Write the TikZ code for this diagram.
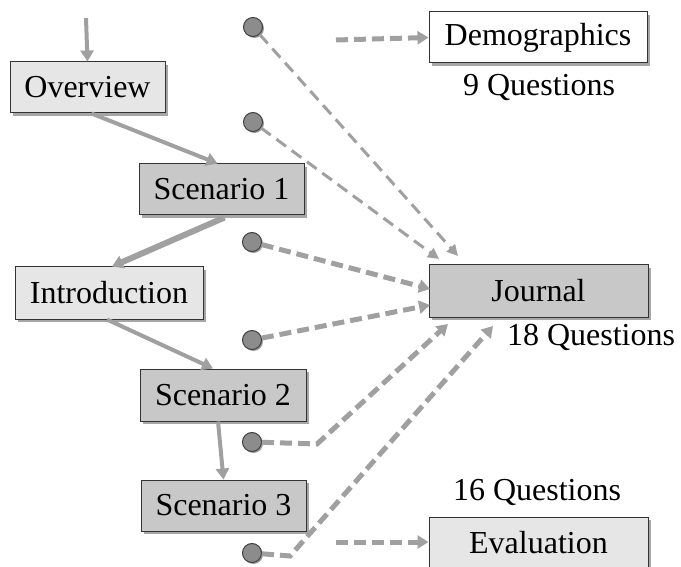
\documentclass[tikz,border=0pt]{standalone}
\usepackage{fontspec}
\setmainfont{Liberation Serif}
\usetikzlibrary{arrows.meta,shadows,calc}
\definecolor{arr}{HTML}{A0A0A0}
\definecolor{boxlight}{HTML}{E6E6E6}
\definecolor{boxdark}{HTML}{C8C8C8}
\definecolor{dotfill}{HTML}{8C8C8C}
\tikzset{
  boxbase/.style={draw=black!80, line width=1pt, inner sep=0pt,
    font=\fontsize{32}{38}\selectfont,
    drop shadow={shadow xshift=3pt, shadow yshift=-3pt, fill=black!35, opacity=1}},
  lightbox/.style={boxbase, fill=boxlight},
  darkbox/.style={boxbase, fill=boxdark},
  whitebox/.style={boxbase, fill=white},
  qlabel/.style={inner sep=0pt, font=\fontsize{32}{38}\selectfont},
  dot/.style={circle, draw=black!75, line width=1pt, fill=dotfill, minimum size=19pt, inner sep=0pt,
    drop shadow={shadow xshift=1.5pt, shadow yshift=-1.5pt, fill=black!40, opacity=1}},
  flow/.style={draw=arr, line width=4pt, -{Triangle[length=11pt,width=13pt]}},
  thinlink/.style={draw=arr, line width=3pt, dash pattern=on 12pt off 7pt, -{Triangle[length=11pt,width=11pt]}},
  thicklink/.style={draw=arr, line width=5pt, dash pattern=on 12pt off 6pt, -{Triangle[length=11pt,width=13pt]}},
}
\begin{document}
\begin{tikzpicture}[x=1pt,y=-1pt]
\useasboundingbox (0,0) rectangle (681,567);
\begin{scope}
\clip (0,0) rectangle (681,567);
% boxes
\node[lightbox, minimum width=155pt, minimum height=51pt] (ov) at (87.5,87.5) {Overview};
\node[darkbox, minimum width=165pt, minimum height=51pt] (s1) at (221.5,189.5) {Scenario 1};
\node[lightbox, minimum width=188pt, minimum height=52pt] (intro) at (109,293) {Introduction};
\node[darkbox, minimum width=166pt, minimum height=52pt] (s2) at (223,395) {Scenario 2};
\node[darkbox, minimum width=165pt, minimum height=51pt] (s3) at (223.5,505.5) {Scenario 3};
\node[whitebox, minimum width=218pt, minimum height=51pt] (demo) at (538,37.5) {Demographics};
\node[darkbox, minimum width=219pt, minimum height=52pt] (jour) at (538.5,291) {Journal};
\node[lightbox, minimum width=219pt, minimum height=56pt, text depth=6pt] (eval) at (538.5,545) {Evaluation};
% question counts
\node[qlabel] (q9) at (539,88) {9 Questions};
\node[qlabel] (q18) at (591,337) {18 Questions};
\node[qlabel] (q16) at (537,492) {16 Questions};
% dots
\node[dot] (c1) at (253,27) {};
\node[dot] (c2) at (253,122) {};
\node[dot] (c3) at (252,242) {};
\node[dot] (c4) at (252,340) {};
\node[dot] (c5) at (252,442) {};
\node[dot] (c6) at (252,553) {};
% coordinates
\coordinate (top) at (86,18);
\coordinate (j1) at (458,256);
\coordinate (j2) at (439,259);
\coordinate (j3) at (430,289);
\coordinate (j4) at (430,305);
\coordinate (j5) at (448,324);
\coordinate (j6) at (493,326);
\coordinate (k5) at (317,444);
\coordinate (k6) at (290,556);
\coordinate (dstart) at (336,40);
\coordinate (estart) at (336,542);
% solid flow
\draw[flow] (top) -- (ov.north);
\draw[flow] ($(ov.south)+(4,0)$) -- ($(s1.north)+(-4,0)$);
\draw[flow, line width=6pt] ($(s1.south)+(3,2)$) -- ($(intro.north)+(3,0)$);
\draw[flow] ($(intro.south)+(-2,0)$) -- ($(s2.north)+(-10,0)$);
\draw[flow] ($(s2.south)+(-5,0)$) -- (s3.north);
% dashed links
\draw[thinlink] (c1) -- (j1);
\draw[thinlink] (c2) -- (j2);
\draw[thicklink] (c3) -- (j3);
\draw[thicklink] (c4) -- (j4);
\draw[thicklink] (c5) -- (k5) -- (j5);
\draw[thicklink] (c6) -- (k6) -- (j6);
\draw[thicklink] (dstart) -- (demo.west);
\draw[thicklink] (estart) -- (eval.west |- estart);
\end{scope}
\end{tikzpicture}
\end{document}
